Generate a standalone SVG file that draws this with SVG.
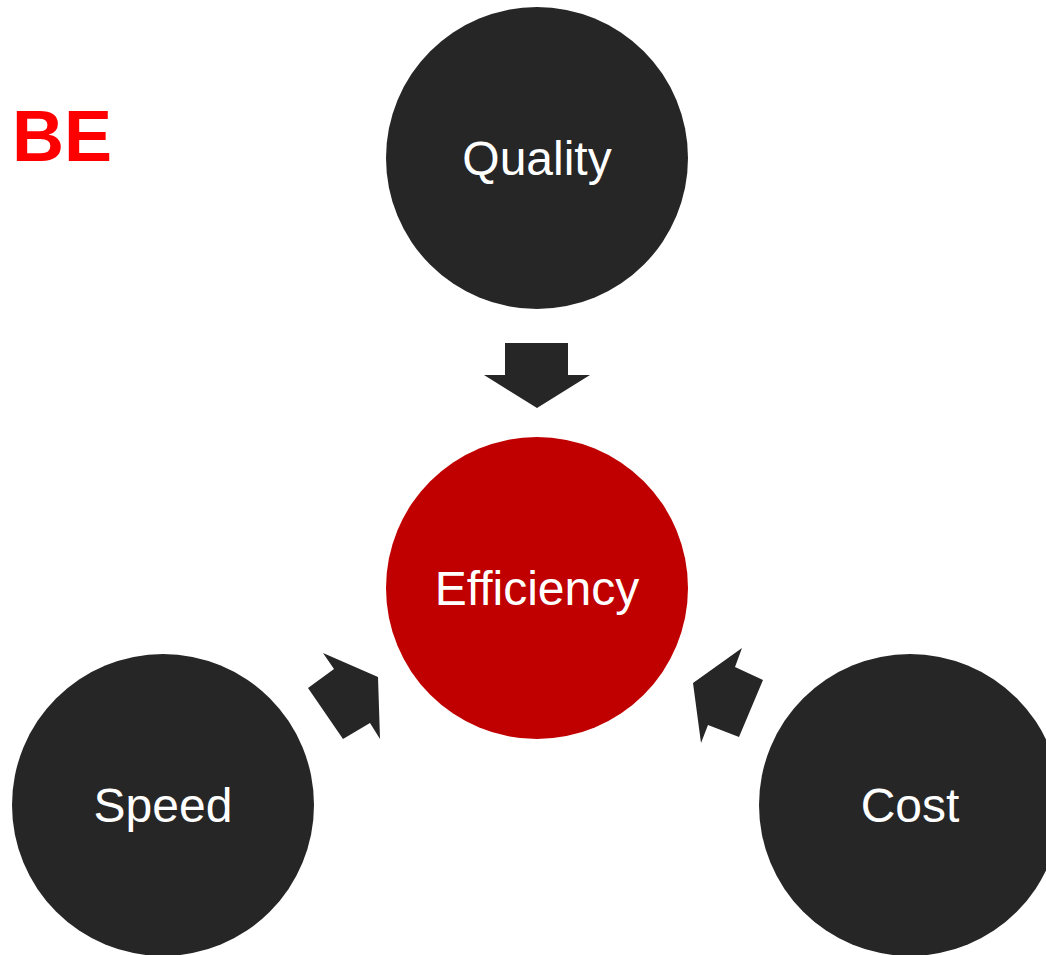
<svg xmlns="http://www.w3.org/2000/svg" width="1046" height="955" viewBox="0 0 1046 955">
<style>
.dark{fill:#262626}
.red{fill:#C00000}
.lbl{fill:#FFFFFF;font-family:"Liberation Sans",Arial,sans-serif;font-size:48px;text-anchor:middle}
.arrow{fill:#262626}
</style>
<rect width="1046" height="955" fill="#FFFFFF"/>
<text x="12" y="161" fill="#FF0000" font-family="Liberation Sans, Arial, sans-serif" font-weight="bold" font-size="72">BE</text>
<g id="connectors">
<polygon class="arrow" points="505,343 568,343 568,375 590,375 537,408 484,375 505,375"/>
<polygon class="arrow" points="334,669 323,653 378,677 380,739 370,723 343,739 308,688"/>
<polygon class="arrow" points="735,667 742,648 693,683 701,743 708,725 739,737 763,680"/>
</g>
<g id="quality"><circle class="dark" cx="537" cy="158" r="151"/><text class="lbl" x="537" y="175">Quality</text></g>
<g id="efficiency"><circle class="red" cx="537" cy="588" r="151"/><text class="lbl" x="537" y="605">Efficiency</text></g>
<g id="speed"><circle class="dark" cx="163" cy="805" r="151"/><text class="lbl" x="163" y="822">Speed</text></g>
<g id="cost"><circle class="dark" cx="910" cy="805" r="151"/><text class="lbl" x="910" y="822">Cost</text></g>
</svg>
